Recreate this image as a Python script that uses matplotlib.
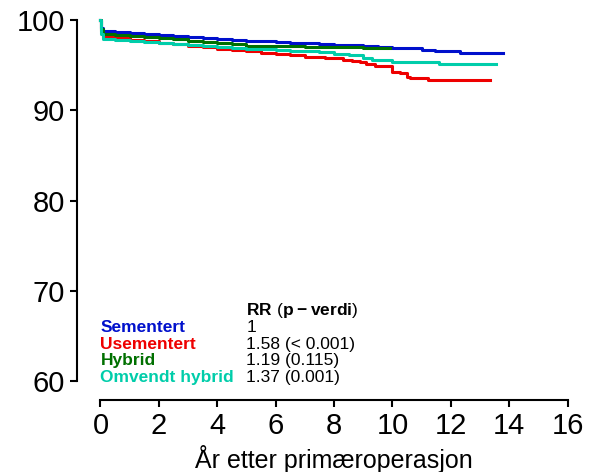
import matplotlib
matplotlib.use("Agg")
import matplotlib.pyplot as plt

plt.rcParams["font.family"] = ["Liberation Sans", "DejaVu Sans"]
plt.rcParams["mathtext.fontset"] = "custom"
plt.rcParams["mathtext.rm"] = "Liberation Sans"
plt.rcParams["mathtext.bf"] = "Liberation Sans:bold"

# survival curves (years, % without revision)
t_sem = [0, 0.02, 0.08, 0.5, 1, 1.5, 2, 2.5, 3, 3.5, 4, 4.5, 5, 5.5, 6, 6.5,
         7, 7.5, 8, 8.5, 9, 9.5, 10, 11.0, 11.45, 12.3, 13.8]
v_sem = [100, 99.2, 98.85, 98.7, 98.6, 98.5, 98.4, 98.3, 98.2, 98.08, 97.95,
         97.85, 97.75, 97.68, 97.6, 97.52, 97.45, 97.38, 97.3, 97.22, 97.15,
         97.05, 96.95, 96.75, 96.6, 96.4, 96.4]

t_usem = [0, 0.02, 0.08, 0.5, 1, 1.5, 2, 2.5, 3, 3.5, 4, 4.5, 5, 5.5, 6, 6.5,
          7, 7.7, 8.3, 8.6, 8.9, 9.1, 9.4, 9.97, 10.25, 10.5, 10.6, 11.2, 13.35]
v_usem = [100, 98.8, 98.15, 98.0, 97.85, 97.68, 97.5, 97.32, 97.15, 97.0,
          96.85, 96.7, 96.55, 96.4, 96.25, 96.1, 95.95, 95.85, 95.65, 95.5,
          95.35, 95.1, 94.9, 94.25, 94.1, 93.75, 93.55, 93.35, 93.35]

t_hyb = [0, 0.02, 0.08, 0.5, 1, 1.5, 2, 2.5, 3, 3.5, 4, 4.5, 5, 5.5, 6, 7, 8,
         9, 9.9]
v_hyb = [100, 99.0, 98.5, 98.4, 98.25, 98.12, 98.0, 97.88, 97.75, 97.6, 97.45,
         97.32, 97.2, 97.15, 97.1, 97.05, 97.0, 96.95, 96.9]

t_omv = [0, 0.02, 0.08, 0.5, 1, 1.5, 2, 2.5, 3, 3.5, 4, 4.5, 5, 5.5, 6, 6.5,
         7, 7.5, 8, 8.5, 9, 9.3, 10, 11.6, 13.55]
v_omv = [100, 98.5, 97.95, 97.78, 97.7, 97.6, 97.5, 97.4, 97.3, 97.18, 97.05,
         96.95, 96.85, 96.78, 96.7, 96.62, 96.55, 96.45, 96.3, 96.1, 95.85,
         95.55, 95.4, 95.2, 95.2]

groups = ["Sementert", "Usementert", "Hybrid", "Omvendt hybrid"]
colors = ["#0010CC", "#EE0000", "#007000", "#00CDAA"]
rr_text = ["1", "1.58 (< 0.001)", "1.19 (0.115)", "1.37 (0.001)"]

x_ticks = list(range(0, 17, 2))
y_ticks = [60, 70, 80, 90, 100]

fig = plt.figure(figsize=(5.97, 4.72), dpi=100)
ax = fig.add_axes([0.1370, 0.1629, 0.8452, 0.8246])

curves = [(t_sem, v_sem), (t_usem, v_usem), (t_hyb, v_hyb), (t_omv, v_omv)]
for (t, v), c in zip(curves, colors):
    ax.step(t, v, where="post", color=c, lw=2.2)

ax.set_xlim(-0.64, 16.64)
ax.set_ylim(58.4, 101.6)

# R style axes
for s in ["top", "right"]:
    ax.spines[s].set_visible(False)
ax.spines["left"].set_position(("outward", 3.3))
ax.spines["bottom"].set_position(("outward", 3.5))
ax.spines["left"].set_bounds(60, 100)
ax.spines["bottom"].set_bounds(0, 16)
for s in ["left", "bottom"]:
    ax.spines[s].set_linewidth(1.5)
ax.set_xticks(x_ticks)
ax.set_yticks(y_ticks)
ax.tick_params(width=1.5, length=5, labelsize=21, pad=4)
ax.set_xlabel("År etter primæroperasjon", fontsize=18, labelpad=3)

# legend with rate ratios
ax.text(5.0, 67.8, r"$\mathbf{RR}\ (\mathbf{p-verdi})$", fontsize=12.5,
        va="center", ha="left")
rows_y = [65.9, 64.0, 62.2, 60.3]
for name, c, rr, yy in zip(groups, colors, rr_text, rows_y):
    ax.text(0.0, yy, name, color=c, fontsize=12.5, fontweight="bold",
            va="center", ha="left")
    ax.text(5.0, yy, rr, color="black", fontsize=12.5, va="center", ha="left")

fig.savefig("out.png", dpi=100)
